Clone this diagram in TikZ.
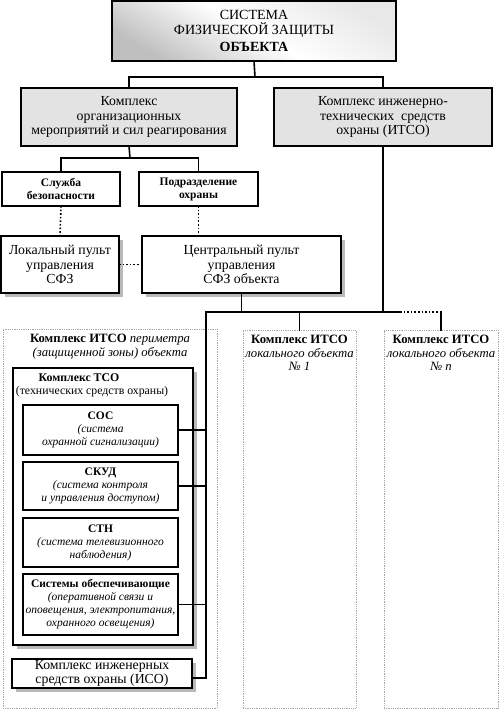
\documentclass[tikz,border=0pt]{standalone}
\usepackage{fontspec}
\setmainfont{Liberation Serif}
\usetikzlibrary{shadows}
\begin{document}
\begin{tikzpicture}[x=1pt,y=-1pt,
  box/.style={draw=black, line width=1.5pt, inner sep=1pt, outer sep=0pt, align=center, fill=white},
  greybox/.style={box, fill=gray!22},
  thinbox/.style={draw=gray!70, line width=0.8pt, densely dotted, inner sep=0pt, outer sep=0pt, fill=white},
  shad/.style={drop shadow={shadow xshift=4pt, shadow yshift=-4pt, fill=gray!55, opacity=1}},
  conn/.style={line width=1.6pt, line cap=rect},
  dotconn/.style={line width=1.6pt, dotted},
  fT/.style={font=\fontsize{14}{15}\selectfont},
  fA/.style={font=\fontsize{13.8}{14.5}\selectfont},
  fB/.style={font=\fontsize{12.7}{13.5}\selectfont},
  fC/.style={font=\fontsize{11.5}{13}\selectfont},
]
\useasboundingbox (0,0) rectangle (500,709);
% top box
\shade[top color=gray!18, bottom color=gray!50, middle color=white, shading angle=-30] (112,1) rectangle (396,61);
\node[draw, line width=2.5pt, minimum width=284pt, minimum height=60pt, inner sep=0pt, outer sep=0pt, align=center, fT] (top) at (254,31)
  {СИСТЕМА\\ФИЗИЧЕСКОЙ ЗАЩИТЫ\\[2pt]\textbf{ОБЪЕКТА}};
% level 2
\node[greybox, minimum width=216pt, minimum height=58pt, fA] (A) at (129,117)
  {Комплекс\\организационных\\мероприятий и сил реагирования};
\node[greybox, minimum width=218pt, minimum height=58pt, fA] (B) at (383,117)
  {Комплекс инженерно-\\технических\ \ средств\\охраны (ИТСО)};
% level 3
\node[box, minimum width=118pt, minimum height=34pt, fC] (S) at (61,189)
  {\textbf{Служба}\\\textbf{безопасности}};
\node[box, minimum width=119pt, minimum height=34pt, fC] (Pd) at (198.5,189)
  {\textbf{Подразделение}\\\textbf{охраны}};
% level 4
\node[box, shad, minimum width=118pt, minimum height=57pt, fA] (L) at (60,264.5)
  {Локальный пульт\\управления\\СФЗ};
\node[box, shad, minimum width=199pt, minimum height=57pt, fA] (C) at (241.5,264.5)
  {Центральный пульт\\управления\\СФЗ объекта};
% bottom big boxes
\node[thinbox, minimum width=214pt, minimum height=379pt] (P) at (110,518.5) {};
\node[thinbox, minimum width=113pt, minimum height=378pt] (L1) at (299.5,519) {};
\node[thinbox, minimum width=114pt, minimum height=378pt] (Ln) at (441,519) {};
\node[fB, align=center, anchor=north] (Pt) at (110,331)
  {\textbf{Комплекс ИТСО} \textit{периметра}\\\textit{(защищенной зоны) объекта}};
\node[fB, align=center, anchor=north] (L1t) at (299.5,332)
  {\textbf{Комплекс ИТСО}\\\textit{локального объекта}\\\textit{№ 1}};
\node[fB, align=center, anchor=north] (Lnt) at (441,332)
  {\textbf{Комплекс ИТСО}\\\textit{локального объекта}\\\textit{№ n}};
% TSO
\node[box, shad, line width=2.2pt, minimum width=180pt, minimum height=277pt] (T) at (103,506.5) {};
\node[align=center, anchor=north, font=\fontsize{11.8}{13.5}\selectfont] (Tt) at (92,370)
  {\hspace*{-26pt}\textbf{Комплекс ТСО}\\(технических средств охраны)};
\node[box, minimum width=155pt, minimum height=50pt, fC] (SOS) at (100.5,430)
  {\textbf{СОС}\\\textit{(система}\\\textit{охранной сигнализации)}};
\node[box, minimum width=155pt, minimum height=48pt, fC] (SKUD) at (100.5,486)
  {\textbf{СКУД}\\\textit{(система контроля}\\\textit{и управления доступом)}};
\node[box, minimum width=155pt, minimum height=49pt, fC] (STN) at (100.5,542.5)
  {\textbf{СТН}\\\textit{(система телевизионного}\\\textit{наблюдения)}};
\node[box, minimum width=155pt, minimum height=61pt, fC] (SYS) at (100.5,604.5)
  {\textbf{Системы обеспечивающие}\\\textit{(оперативной связи и}\\\textit{оповещения, электропитания,}\\\textit{охранного освещения)}};
\node[box, shad, minimum width=180pt, minimum height=29pt, fA] (ISO) at (102,673.5)
  {Комплекс инженерных\\средств охраны (ИСО)};
% connectors
\coordinate (j1) at (255,77);
\draw[conn] (top.south) -- (j1);
\draw[conn] (A.north) |- (j1) -| (B.north);
\coordinate (j2) at (130,158);
\draw[conn] (A.south) -- (j2);
\draw[conn] (S.north) |- (j2) -| (Pd.north);
\draw[dotconn] (S.south) -- (L.north);
\draw[dotconn] (Pd.south) -- (Pd.south |- C.north);
\draw[dotconn] (L.east) -- (C.west);
\coordinate (busL) at (206,312);
\coordinate (busD) at (400,312);
\draw[conn] (C.south) -- (C.south |- busL);
\draw[conn] (B.south) -- (B.south |- busL);
\draw[conn] (busL) -- (busD);
\draw[dotconn] (busD) -- (Ln.north |- busD);
\draw[conn] (Ln.north |- busD) -- (Ln.north);
\draw[conn] (L1.north |- busL) -- (L1.north);
\coordinate (isoj) at (206,678);
\draw[conn] (busL) -- (isoj) -- (isoj -| ISO.east);
\draw[conn] (SOS.east) -- (SOS.east -| busL);
\draw[conn] (SKUD.east) -- (SKUD.east -| busL);
\draw[conn] (SYS.east) -- (SYS.east -| busL);
\end{tikzpicture}
\end{document}
